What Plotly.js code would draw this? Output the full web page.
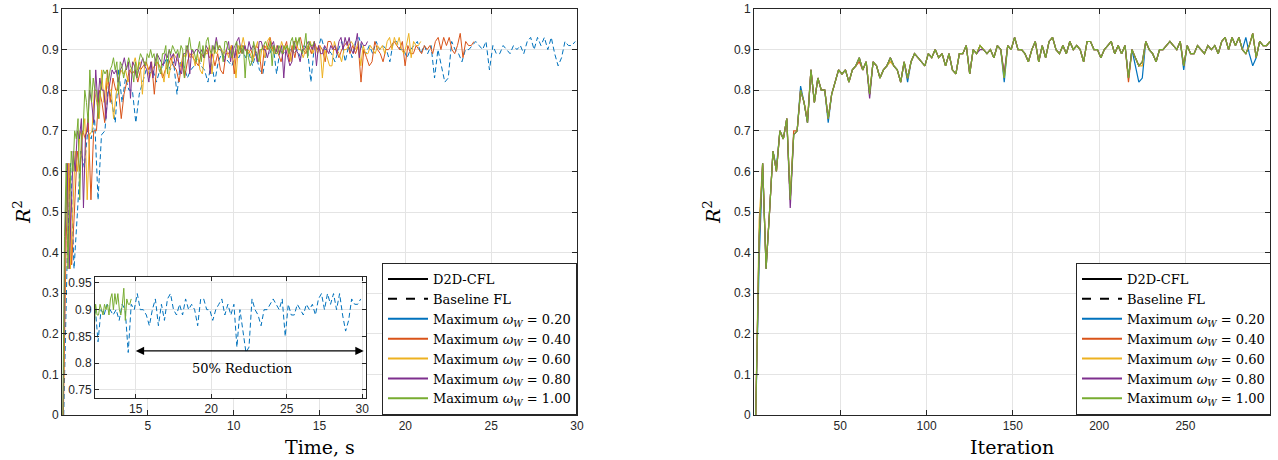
<!DOCTYPE html>
<html><head><meta charset="utf-8">
<script src="https://cdn.plot.ly/plotly-3.0.1.min.js"></script>
<style>html,body{margin:0;padding:0;background:#fff}#chart{width:1278px;height:460px}</style>
</head><body><div id="chart"></div>
<script>
// ---------- data ----------
const firstIteration = 1;
const iterationStep = 2;
const seriesLabels = ['0.20', '0.40', '0.60', '0.80', '1.00'];
const seriesColors = ['#0072BD', '#D95319', '#EDB120', '#7E2F8E', '#77AC30'];
// wall-clock time (s) reached at the last iteration, per series
const endTimes = [29.9, 24.0, 20.9, 17.8, 14.7];

// R^2 per sampled iteration (1, 3, 5, ... 299)
const r2W020 = [
 0.00,0.38,0.62,0.36,0.50,0.65,0.61,0.70,0.68,0.73,
 0.53,0.69,0.70,0.81,0.77,0.72,0.85,0.77,0.83,0.80,
 0.80,0.72,0.79,0.82,0.85,0.84,0.85,0.82,0.85,0.86,
 0.88,0.85,0.87,0.79,0.87,0.86,0.83,0.85,0.86,0.88,
 0.86,0.85,0.82,0.87,0.82,0.87,0.89,0.88,0.87,0.86,
 0.89,0.88,0.90,0.88,0.89,0.86,0.89,0.85,0.84,0.89,
 0.89,0.91,0.84,0.90,0.89,0.91,0.90,0.89,0.90,0.88,
 0.91,0.90,0.82,0.91,0.90,0.93,0.90,0.90,0.89,0.87,
 0.90,0.92,0.87,0.91,0.88,0.92,0.93,0.90,0.89,0.91,
 0.89,0.92,0.90,0.91,0.90,0.87,0.92,0.92,0.90,0.90,
 0.88,0.90,0.91,0.92,0.89,0.91,0.89,0.91,0.83,0.90,
 0.86,0.82,0.83,0.92,0.90,0.89,0.87,0.90,0.90,0.91,
 0.92,0.91,0.90,0.92,0.85,0.91,0.89,0.89,0.91,0.90,
 0.89,0.91,0.90,0.91,0.89,0.92,0.93,0.90,0.93,0.91,
 0.93,0.90,0.93,0.89,0.86,0.88,0.92,0.91,0.91,0.92
];
const r2W040 = [
 0.00,0.43,0.62,0.37,0.50,0.65,0.60,0.70,0.68,0.73,
 0.53,0.70,0.70,0.80,0.77,0.72,0.85,0.77,0.83,0.80,
 0.80,0.73,0.79,0.82,0.85,0.84,0.85,0.82,0.85,0.86,
 0.87,0.85,0.87,0.79,0.87,0.86,0.83,0.85,0.86,0.88,
 0.86,0.85,0.82,0.87,0.83,0.87,0.89,0.88,0.87,0.86,
 0.89,0.88,0.90,0.88,0.89,0.86,0.89,0.85,0.84,0.89,
 0.89,0.91,0.84,0.90,0.89,0.91,0.90,0.89,0.90,0.88,
 0.91,0.90,0.84,0.91,0.90,0.93,0.90,0.90,0.89,0.87,
 0.90,0.92,0.87,0.91,0.88,0.92,0.93,0.90,0.89,0.91,
 0.89,0.92,0.90,0.91,0.90,0.87,0.92,0.92,0.90,0.90,
 0.88,0.90,0.91,0.92,0.89,0.91,0.89,0.91,0.82,0.90,
 0.88,0.86,0.87,0.92,0.90,0.89,0.87,0.90,0.90,0.91,
 0.92,0.91,0.90,0.92,0.86,0.91,0.89,0.89,0.91,0.90,
 0.89,0.91,0.90,0.91,0.89,0.92,0.93,0.90,0.93,0.91,
 0.93,0.90,0.89,0.91,0.94,0.88,0.92,0.91,0.91,0.92
];
const r2W060 = [
 0.00,0.48,0.62,0.36,0.50,0.65,0.60,0.70,0.68,0.73,
 0.53,0.69,0.70,0.80,0.77,0.73,0.85,0.77,0.83,0.80,
 0.80,0.73,0.79,0.82,0.85,0.84,0.85,0.82,0.85,0.86,
 0.88,0.85,0.87,0.79,0.87,0.86,0.83,0.85,0.86,0.87,
 0.86,0.85,0.82,0.87,0.83,0.87,0.89,0.88,0.87,0.86,
 0.89,0.88,0.90,0.88,0.89,0.86,0.89,0.85,0.84,0.89,
 0.89,0.91,0.84,0.90,0.89,0.91,0.90,0.89,0.90,0.88,
 0.91,0.90,0.83,0.91,0.90,0.93,0.90,0.90,0.89,0.87,
 0.90,0.92,0.87,0.91,0.88,0.92,0.93,0.90,0.89,0.91,
 0.89,0.92,0.90,0.91,0.90,0.87,0.92,0.92,0.90,0.90,
 0.88,0.90,0.91,0.92,0.89,0.91,0.89,0.91,0.83,0.90,
 0.88,0.86,0.86,0.92,0.90,0.89,0.87,0.90,0.90,0.91,
 0.92,0.91,0.90,0.92,0.86,0.91,0.89,0.89,0.91,0.90,
 0.89,0.91,0.90,0.91,0.89,0.92,0.93,0.90,0.93,0.91,
 0.93,0.90,0.89,0.91,0.94,0.88,0.92,0.91,0.91,0.92
];
const r2W080 = [
 0.00,0.44,0.62,0.36,0.50,0.65,0.60,0.70,0.68,0.73,
 0.51,0.69,0.70,0.80,0.77,0.72,0.85,0.77,0.83,0.80,
 0.80,0.73,0.79,0.82,0.85,0.84,0.85,0.82,0.85,0.86,
 0.88,0.85,0.87,0.78,0.87,0.86,0.83,0.85,0.86,0.88,
 0.86,0.85,0.82,0.87,0.83,0.87,0.89,0.88,0.87,0.86,
 0.89,0.88,0.90,0.88,0.89,0.86,0.89,0.85,0.84,0.89,
 0.89,0.91,0.84,0.90,0.89,0.90,0.90,0.89,0.90,0.88,
 0.91,0.90,0.84,0.91,0.90,0.93,0.90,0.90,0.89,0.87,
 0.90,0.92,0.87,0.91,0.88,0.92,0.93,0.90,0.89,0.91,
 0.89,0.92,0.90,0.91,0.90,0.87,0.92,0.92,0.90,0.90,
 0.88,0.90,0.91,0.92,0.89,0.91,0.89,0.91,0.83,0.90,
 0.88,0.86,0.87,0.92,0.90,0.89,0.87,0.90,0.90,0.91,
 0.92,0.91,0.90,0.92,0.86,0.91,0.89,0.89,0.91,0.90,
 0.89,0.91,0.90,0.91,0.89,0.92,0.93,0.90,0.93,0.91,
 0.93,0.90,0.89,0.91,0.94,0.88,0.92,0.91,0.91,0.92
];
const r2W100 = [
 0.00,0.44,0.62,0.36,0.50,0.65,0.60,0.70,0.68,0.73,
 0.53,0.69,0.70,0.80,0.77,0.72,0.85,0.77,0.83,0.80,
 0.80,0.73,0.79,0.82,0.85,0.84,0.85,0.82,0.85,0.86,
 0.88,0.85,0.87,0.79,0.87,0.86,0.83,0.85,0.86,0.88,
 0.86,0.85,0.82,0.87,0.83,0.87,0.89,0.88,0.87,0.86,
 0.89,0.88,0.90,0.88,0.89,0.86,0.89,0.85,0.84,0.89,
 0.89,0.91,0.84,0.90,0.89,0.91,0.90,0.89,0.90,0.88,
 0.91,0.90,0.83,0.91,0.90,0.93,0.90,0.90,0.89,0.87,
 0.90,0.92,0.87,0.91,0.88,0.92,0.93,0.90,0.89,0.91,
 0.89,0.92,0.90,0.91,0.90,0.87,0.92,0.92,0.90,0.90,
 0.88,0.90,0.91,0.92,0.89,0.91,0.89,0.91,0.83,0.90,
 0.88,0.86,0.87,0.92,0.90,0.89,0.87,0.90,0.90,0.91,
 0.92,0.91,0.90,0.92,0.86,0.91,0.89,0.89,0.91,0.90,
 0.89,0.91,0.90,0.91,0.89,0.92,0.93,0.90,0.93,0.91,
 0.93,0.90,0.89,0.91,0.94,0.88,0.92,0.91,0.91,0.92
];
const seriesValues = [r2W020, r2W040, r2W060, r2W080, r2W100];

const xTicksTime = [5, 10, 15, 20, 25, 30];
const xTicksIter = [50, 100, 150, 200, 250];
const yTicksMain = [0, 0.1, 0.2, 0.3, 0.4, 0.5, 0.6, 0.7, 0.8, 0.9, 1];
const yTickTextMain = ['0','0.1','0.2','0.3','0.4','0.5','0.6','0.7','0.8','0.9','1'];
const xTicksInset = [15, 20, 25, 30];
const yTicksInset = [0.75, 0.8, 0.85, 0.9, 0.95];
const yTickTextInset = ['0.75','0.8','0.85','0.9','0.95'];

// ---------- build ----------
const W = 1278, H = 460;
const iterations = r2W100.map((_, k) => firstIteration + iterationStep * k);
const lastIteration = iterations[iterations.length - 1];
const timesFor = s => iterations.map(it => it / lastIteration * endTimes[s]);

const serif = 'DejaVu Serif, serif';
const sans = 'Liberation Sans, Arial, sans-serif';
const legLabel = s => 'Maximum <i>ω</i><sub><i>W</i></sub> = ' + seriesLabels[s];

const traces = [];
// left: R^2 vs time
seriesValues.forEach((vals, s) => {
  traces.push({x: timesFor(s), y: vals, xaxis: 'x', yaxis: 'y', mode: 'lines',
    line: {color: seriesColors[s], width: 1, dash: s === 0 ? '5px,3px' : 'solid'},
    showlegend: false, hoverinfo: 'skip'});
});
// right: R^2 vs iteration
seriesValues.forEach((vals, s) => {
  traces.push({x: iterations, y: vals, xaxis: 'x2', yaxis: 'y2', mode: 'lines',
    line: {color: seriesColors[s], width: 1.2},
    showlegend: false, hoverinfo: 'skip'});
});
// inset (zoom on left plot)
[0, 4].forEach(s => {
  traces.push({x: timesFor(s), y: seriesValues[s], xaxis: 'x3', yaxis: 'y3', mode: 'lines',
    line: {color: seriesColors[s], width: 1, dash: s === 0 ? '5px,3px' : 'solid'},
    showlegend: false, hoverinfo: 'skip'});
});
// legend entries
['legend', 'legend2'].forEach((lg, li) => {
  const xa = li === 0 ? 'x' : 'x2', ya = li === 0 ? 'y' : 'y2';
  traces.push({x: [null], y: [null], xaxis: xa, yaxis: ya, mode: 'lines', name: 'D2D-CFL',
    line: {color: '#000', width: 2}, legend: lg});
  traces.push({x: [null], y: [null], xaxis: xa, yaxis: ya, mode: 'lines', name: 'Baseline FL',
    line: {color: '#000', width: 2, dash: 'dash'}, legend: lg});
  seriesLabels.forEach((_, s) => {
    traces.push({x: [null], y: [null], xaxis: xa, yaxis: ya, mode: 'lines', name: legLabel(s),
      line: {color: seriesColors[s], width: 2}, legend: lg});
  });
});

const axisStyle = {
  showline: true, linecolor: '#262626', linewidth: 1, mirror: 'ticks',
  ticks: 'inside', ticklen: 5, tickcolor: '#262626', tickwidth: 1,
  gridcolor: '#e4e4e4', gridwidth: 1, zeroline: false,
  tickfont: {family: sans, size: 12, color: '#262626'}
};
const legendStyle = {
  xanchor: 'right', yanchor: 'bottom', y: 45 / H,
  bgcolor: '#ffffff', bordercolor: '#262626', borderwidth: 1,
  font: {family: serif, size: 13, color: '#000'}, tracegroupgap: 0, itemwidth: 40
};

const layout = {
  width: W, height: H, margin: {l: 0, r: 0, t: 0, b: 0},
  paper_bgcolor: '#ffffff', plot_bgcolor: '#ffffff', showlegend: true,
  xaxis: Object.assign({}, axisStyle, {domain: [62 / W, 577 / W], range: [0, 30], tickvals: xTicksTime, anchor: 'y'}),
  yaxis: Object.assign({}, axisStyle, {domain: [45 / H, 451 / H], range: [0, 1], tickvals: yTicksMain, ticktext: yTickTextMain, anchor: 'x'}),
  xaxis2: Object.assign({}, axisStyle, {domain: [754 / W, 1270 / W], range: [0, 299], tickvals: xTicksIter, anchor: 'y2'}),
  yaxis2: Object.assign({}, axisStyle, {domain: [45 / H, 451 / H], range: [0, 1], tickvals: yTicksMain, ticktext: yTickTextMain, anchor: 'x2'}),
  xaxis3: Object.assign({}, axisStyle, {domain: [95 / W, 366 / W], range: [12.3, 30.25], tickvals: xTicksInset, anchor: 'y3', ticklen: 4}),
  yaxis3: Object.assign({}, axisStyle, {domain: [62 / H, 183 / H], range: [0.735, 0.961], tickvals: yTicksInset, ticktext: yTickTextInset, anchor: 'x3', ticklen: 4}),
  legend: Object.assign({}, legendStyle, {x: 577 / W}),
  legend2: Object.assign({}, legendStyle, {x: 1271 / W}),
  annotations: [
    {xref: 'paper', yref: 'paper', x: 320 / W, y: 13 / H, text: 'Time, s', showarrow: false,
     font: {family: serif, size: 19, color: '#000'}, xanchor: 'center', yanchor: 'middle'},
    {xref: 'paper', yref: 'paper', x: 1012 / W, y: 13 / H, text: 'Iteration', showarrow: false,
     font: {family: serif, size: 19, color: '#000'}, xanchor: 'center', yanchor: 'middle'},
    {xref: 'paper', yref: 'paper', x: 22 / W, y: 248 / H, text: '<i>R</i><sup>2</sup>', showarrow: false,
     textangle: -90, font: {family: serif, size: 19, color: '#000'}, xanchor: 'center', yanchor: 'middle'},
    {xref: 'paper', yref: 'paper', x: 712 / W, y: 248 / H, text: '<i>R</i><sup>2</sup>', showarrow: false,
     textangle: -90, font: {family: serif, size: 19, color: '#000'}, xanchor: 'center', yanchor: 'middle'},
    {xref: 'x3', yref: 'y3', x: 30.1, y: 0.823, axref: 'x3', ayref: 'y3', ax: 14.9, ay: 0.823,
     text: '', showarrow: true, arrowhead: 2, arrowside: 'end+start', arrowsize: 1.2, arrowwidth: 1.4, arrowcolor: '#000'},
    {xref: 'x3', yref: 'y3', x: 22.1, y: 0.791, text: '50% Reduction', showarrow: false,
     font: {family: serif, size: 13, color: '#000'}, xanchor: 'center', yanchor: 'middle'}
  ]
};

Plotly.newPlot('chart', traces, layout, {staticPlot: true, displayModeBar: false});
</script></body></html>
